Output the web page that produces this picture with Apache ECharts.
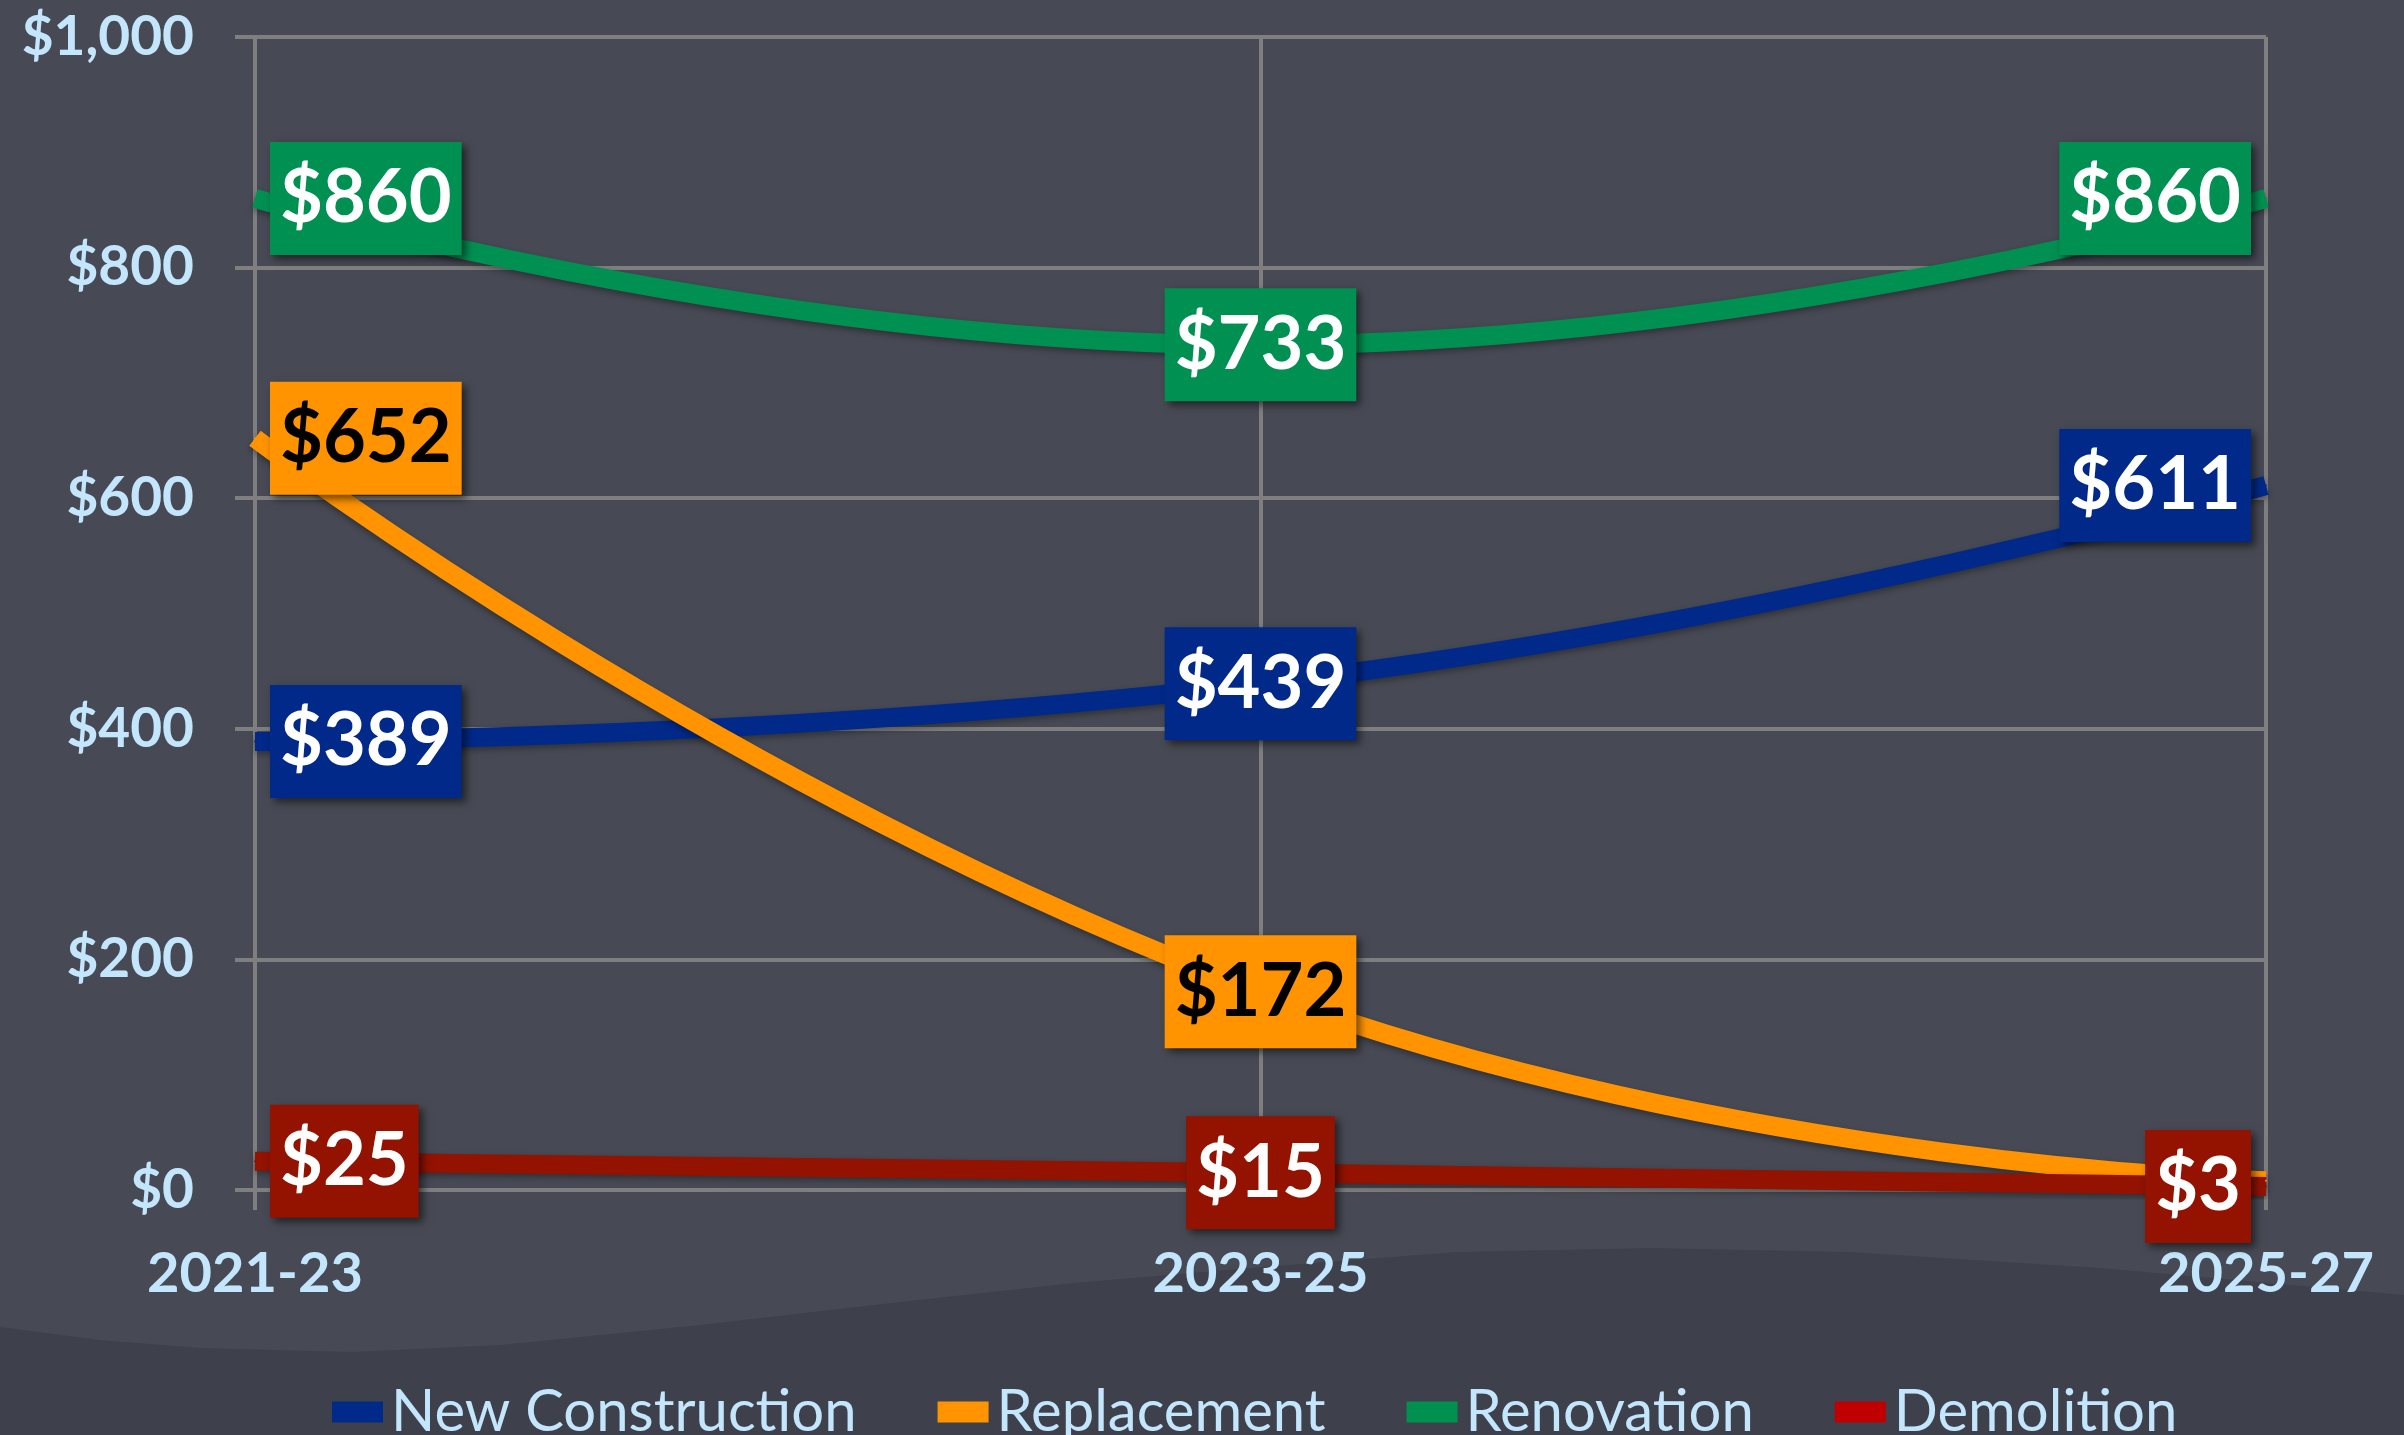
<!DOCTYPE html>
<html>
<head>
<meta charset="utf-8">
<style>
  html, body { margin: 0; padding: 0; background: #3e414b; }
  #chart { width: 2404px; height: 1435px; }
</style>
<script src="https://cdn.jsdelivr.net/npm/echarts@6/dist/echarts.min.js"></script>
</head>
<body>
<div id="chart"></div>
<script>
const categories = ['2021-23', '2023-25', '2025-27'];
const seriesNames = ['New Construction', 'Replacement', 'Renovation', 'Demolition'];
const newConstruction = [389, 439, 611];
const replacement = [652, 172, 8];
const renovation = [860, 733, 860];
const demolition = [25, 15, 3];
const yTicks = [0, 200, 400, 600, 800, 1000];

const lineColors = ['#00298a', '#ff9300', '#009052', '#931200'];
const legendColors = ['#002a8a', '#ff9300', '#00904f', '#c00000'];
const labelTextColors = ['#ffffff', '#000000', '#ffffff', '#ffffff'];
const labelSide = ['right', 'inside', 'left'];
const allValues = [newConstruction, replacement, renovation, demolition];

const chart = echarts.init(document.getElementById('chart'), null, { renderer: 'canvas' });

const axisBlue = '#c3e6fd';
const gridGray = '#7f7f7f';

function buildSeries(idx) {
  const vals = allValues[idx];
  return {
    name: seriesNames[idx],
    type: 'line',
    smooth: 0.5,
    symbol: 'circle',
    symbolSize: 2,
    showSymbol: true,
    itemStyle: { color: lineColors[idx] },
    lineStyle: {
      color: lineColors[idx],
      width: 19,
      shadowColor: 'rgba(0,0,0,0.35)',
      shadowBlur: 6,
      shadowOffsetY: 3
    },
    emphasis: { disabled: true },
    data: vals.map((v, i) => ({
      value: v,
      label: {
        show: !(idx === 1 && i === 2),
        position: labelSide[i],
        distance: 14
      }
    })),
    label: {
      show: true,
      formatter: p => '$' + p.value,
      color: labelTextColors[idx],
      fontFamily: 'Lato',
      fontWeight: 'bold',
      fontSize: 74,
      lineHeight: 75,
      backgroundColor: lineColors[idx],
      padding: [22, 10, 16, 10],
      shadowColor: 'rgba(0,0,0,0.55)',
      shadowBlur: 8,
      shadowOffsetX: 4,
      shadowOffsetY: 4
    }
  };
}

// legend swatches drawn as rich-text boxes so they keep the legend's own colours
const legendRich = { g: { width: 8 } };
legendColors.forEach((c, i) => {
  legendRich['s' + i] = { width: 51, height: 21, backgroundColor: c };
});

const bgPoints = [
  [0, 0], [2404, 0], [2404, 1295], [2100, 1268], [1850, 1252], [1650, 1248], [1457, 1252],
  [1250, 1268], [1074, 1283], [900, 1302], [700, 1325], [500, 1345],
  [353, 1352], [200, 1348], [100, 1340], [0, 1327]
];

const option = {
  backgroundColor: '#3e414b',
  animation: false,
  graphic: [
    {
      type: 'polygon',
      z: -10,
      silent: true,
      shape: { points: bgPoints },
      style: { fill: '#474a54' }
    }
  ],
  grid: { left: 255, right: 138, top: 37, bottom: 245, containLabel: false },
  legend: {
    left: 322,
    top: 1378,
    icon: 'rect',
    itemWidth: 0,
    itemHeight: 0,
    itemGap: 76,
    textStyle: {
      color: axisBlue,
      fontFamily: 'Lato',
      fontSize: 58,
      rich: legendRich
    },
    formatter: name => '{s' + seriesNames.indexOf(name) + '|}{g|}' + name,
    data: seriesNames
  },
  xAxis: {
    type: 'category',
    data: categories,
    boundaryGap: false,
    axisLine: { show: true, lineStyle: { color: gridGray, width: 4 } },
    axisTick: { show: true, length: 20, lineStyle: { color: gridGray, width: 4 } },
    splitLine: { show: true, lineStyle: { color: gridGray, width: 4 } },
    axisLabel: {
      color: axisBlue,
      fontFamily: 'Lato',
      fontWeight: 'bold',
      fontSize: 56,
      margin: 56
    }
  },
  yAxis: {
    type: 'value',
    min: yTicks[0],
    max: yTicks[yTicks.length - 1],
    interval: yTicks[1] - yTicks[0],
    axisLine: { show: true, lineStyle: { color: gridGray, width: 4 } },
    axisTick: { show: true, length: 20, lineStyle: { color: gridGray, width: 4 } },
    splitLine: { show: true, lineStyle: { color: gridGray, width: 4 } },
    axisLabel: {
      color: axisBlue,
      fontFamily: 'Lato',
      fontWeight: 'bold',
      fontSize: 55,
      margin: 61,
      formatter: v => '$' + v.toLocaleString('en-US')
    }
  },
  series: [0, 1, 2, 3].map(buildSeries)
};

chart.setOption(option);
</script>
</body>
</html>
